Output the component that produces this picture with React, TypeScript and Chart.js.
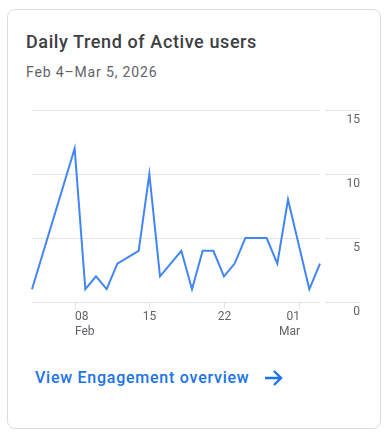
import React, { useEffect, useRef } from "react";
import { Chart, registerables } from "chart.js";

Chart.register(...registerables);

// ---- data ----
const categories: string[] = [
  "2026-02-04", "2026-02-05", "2026-02-06", "2026-02-07", "2026-02-08",
  "2026-02-09", "2026-02-10", "2026-02-11", "2026-02-12", "2026-02-13",
  "2026-02-14", "2026-02-15", "2026-02-16", "2026-02-17", "2026-02-18",
  "2026-02-19", "2026-02-20", "2026-02-21", "2026-02-22", "2026-02-23",
  "2026-02-24", "2026-02-25", "2026-02-26", "2026-02-27", "2026-02-28",
  "2026-03-01", "2026-03-02", "2026-03-03",
];
const activeUsers: (number | null)[] = [
  1, null, null, null, 12,
  1, 2, 1, 3, null,
  4, 10, 2, 3, 4,
  1, 4, 4, 2, 3,
  5, 5, 5, 3, 8,
  null, 1, 3,
];
const xTickDates: string[] = ["2026-02-08", "2026-02-15", "2026-02-22", "2026-03-01"];
const xTickDays: string[] = ["08", "15", "22", "01"];
const xTickMonths: string[] = ["Feb", "", "", "Mar"];
const yTicks: number[] = [0, 5, 10, 15];

const GRID = "#e3e3e3";
const LABEL = "#5f6368";
const LINE = "#4285f4";

const gaAxes = {
  id: "gaAxes",
  afterDraw(chart: any) {
    const { ctx, chartArea, scales } = chart;
    const y = scales.y;
    const x = scales.x;
    ctx.save();
    ctx.strokeStyle = GRID;
    ctx.lineWidth = 1;
    ctx.fillStyle = LABEL;
    ctx.font = "12px Roboto";
    // y tick extensions + labels
    ctx.textAlign = "right";
    ctx.textBaseline = "middle";
    yTicks.forEach((v) => {
      const py = Math.round(y.getPixelForValue(v)) + 0.5;
      ctx.beginPath();
      ctx.moveTo(chartArea.right + 5, py);
      ctx.lineTo(chartArea.right + 40, py);
      ctx.stroke();
      ctx.fillText(String(v), chartArea.right + 40, py + 9.5);
    });
    // x ticks + labels
    const bottom = Math.round(chartArea.bottom) + 0.5;
    xTickDates.forEach((d, i) => {
      const idx = categories.indexOf(d);
      const px = Math.round(x.getPixelForValue(idx)) + 0.5;
      ctx.beginPath();
      ctx.moveTo(px, bottom);
      ctx.lineTo(px, bottom + 6);
      ctx.stroke();
      ctx.textAlign = i === 0 ? "left" : i === xTickDates.length - 1 ? "right" : "center";
      const tx = i === 0 ? px - 0.5 : i === xTickDates.length - 1 ? px + 0.5 : px;
      ctx.fillText(xTickDays[i], tx, bottom + 14);
      if (xTickMonths[i]) ctx.fillText(xTickMonths[i], tx, bottom + 29);
    });
    ctx.restore();
  },
};

function TrendChart() {
  const ref = useRef<HTMLCanvasElement>(null);
  useEffect(() => {
    if (!ref.current) return;
    const chart = new Chart(ref.current, {
      type: "line",
      data: {
        labels: categories,
        datasets: [
          {
            label: "Active users",
            data: activeUsers,
            borderColor: LINE,
            borderWidth: 2,
            pointRadius: 0,
            tension: 0,
            spanGaps: true,
            fill: false,
          },
        ],
      },
      options: {
        animation: false,
        responsive: false,
        maintainAspectRatio: false,
        devicePixelRatio: 1,
        layout: { padding: { left: 32, top: 10, right: 0, bottom: 48 } },
        plugins: { legend: { display: false }, tooltip: { enabled: false } },
        scales: {
          x: { type: "category", display: false, offset: false },
          y: {
            position: "right",
            min: 0,
            max: 15,
            ticks: { display: false, stepSize: 5 },
            grid: { color: GRID, drawTicks: false },
            border: { display: false },
            afterFit: (s: any) => {
              s.width = 68;
            },
          },
        },
      },
      plugins: [gaAxes],
    });
    return () => chart.destroy();
  }, []);
  return <canvas ref={ref} width={388} height={250} style={{ display: "block", width: 388, height: 250 }} />;
}

export default function App() {
  return (
    <div style={{ position: "fixed", left: 0, top: 0, width: 388, height: 435, background: "#fff", fontFamily: "Roboto, sans-serif" }}>
      <div
        style={{
          position: "absolute",
          left: 7,
          top: 9,
          width: 372,
          height: 418,
          border: "1px solid #dadce0",
          borderRadius: 8,
          boxSizing: "content-box",
        }}
      />
      <div style={{ position: "absolute", left: 26, top: 30, fontSize: 18, fontWeight: 500, color: "#3c4043", lineHeight: "24px", letterSpacing: "0.6px", whiteSpace: "nowrap" }}>
        Daily Trend of Active users
      </div>
      <div style={{ position: "absolute", left: 26, top: 62, fontSize: 14, color: "#5f6368", lineHeight: "20px", letterSpacing: "0.85px", whiteSpace: "nowrap" }}>
        Feb 4–Mar 5, 2026
      </div>
      <div style={{ position: "absolute", left: 0, top: 100 }}>
        <TrendChart />
      </div>
      <div style={{ position: "absolute", left: 35, top: 367, fontSize: 16, fontWeight: 500, color: "#1a73e8", lineHeight: "22px", letterSpacing: "0.75px", whiteSpace: "nowrap" }}>
        View Engagement overview
      </div>
      <svg style={{ position: "absolute", left: 264, top: 369 }} width={20} height={18} viewBox="0 0 20 18">
        <path d="M1 9 H17 M10 2 L17 9 L10 16" stroke="#1a73e8" strokeWidth={2.4} fill="none" strokeLinecap="butt" strokeLinejoin="miter" />
      </svg>
    </div>
  );
}
